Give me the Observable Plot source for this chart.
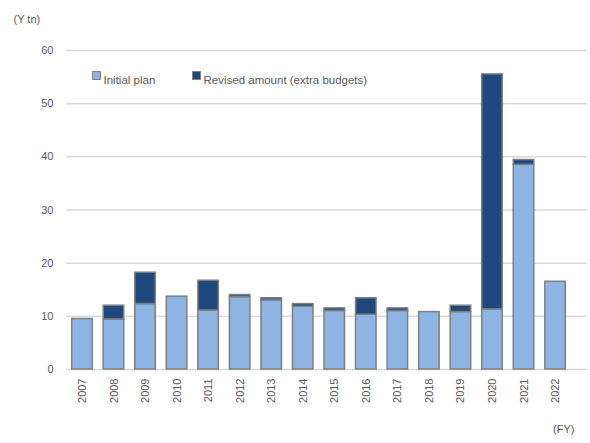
<!DOCTYPE html>
<html>
<head>
<meta charset="utf-8">
<script src="https://cdn.jsdelivr.net/npm/d3@7"></script>
<script src="https://cdn.jsdelivr.net/npm/@observablehq/plot@0.6"></script>
<style>
  html, body { margin: 0; padding: 0; background: #fff; }
  #chart { width: 590px; height: 443px; }
</style>
</head>
<body>
<div id="chart"></div>
<script>
const years = ["2007","2008","2009","2010","2011","2012","2013","2014","2015","2016","2017","2018","2019","2020","2021","2022"];
const initialPlan = [9.5, 9.4, 12.3, 13.7, 11.1, 13.6, 13.0, 11.8, 11.0, 10.3, 11.0, 10.8, 10.8, 11.3, 38.5, 16.5];
const revisedAmount = [0, 2.6, 5.9, 0, 5.6, 0.4, 0.4, 0.5, 0.5, 3.1, 0.5, 0, 1.2, 44.2, 0.9, 0];
const seriesNames = ["Initial plan", "Revised amount (extra budgets)"];
const seriesColors = ["#8db4e2", "#1f497d"];
const yTicks = [0, 10, 20, 30, 40, 50, 60];

const rows = [];
years.forEach((y, i) => rows.push({year: y, series: seriesNames[0], value: initialPlan[i]}));
years.forEach((y, i) => { if (revisedAmount[i] > 0) rows.push({year: y, series: seriesNames[1], value: revisedAmount[i]}); });

const font = "'Liberation Sans', Arial, sans-serif";
const textColor = "#595959";

const chart = Plot.plot({
  width: 590,
  height: 443,
  marginLeft: 66,
  marginRight: 19,
  marginTop: 50,
  marginBottom: 74,
  style: {fontFamily: font, fontSize: "11px", color: textColor, background: "#fff"},
  x: {domain: years, paddingInner: 0.35, paddingOuter: 0.18, round: false, label: null, tickSize: 0, tickPadding: 9, tickRotate: -90},
  y: {domain: [0, 60], ticks: yTicks, label: null, tickSize: 0, tickPadding: 13},
  color: {domain: seriesNames, range: seriesColors},
  marks: [
    Plot.ruleY(yTicks, {stroke: "#d9d9d9", strokeWidth: 1.5, insetRight: -16}),
    Plot.barY(rows, {x: "year", y: "value", fill: "series", stroke: "#7f7f7f", strokeWidth: 1.5}),
    Plot.text(["(Y tn)"], {frameAnchor: "top-left", dx: -53, dy: -35, textAnchor: "start", fill: textColor, fontSize: 11}),
    Plot.text(["(FY)"], {frameAnchor: "bottom-right", dx: 3, dy: 63, textAnchor: "end", fill: textColor, fontSize: 11}),
    Plot.dot([0], {frameAnchor: "top-left", dx: 30, dy: 25, symbol: "square", r: 4.5, fill: seriesColors[0], stroke: "#7f7f7f", strokeWidth: 1}),
    Plot.text([seriesNames[0]], {frameAnchor: "top-left", dx: 37, dy: 25, textAnchor: "start", fill: textColor, fontSize: 11.5}),
    Plot.dot([0], {frameAnchor: "top-left", dx: 130, dy: 25, symbol: "square", r: 4.5, fill: seriesColors[1], stroke: "#7f7f7f", strokeWidth: 1}),
    Plot.text([seriesNames[1]], {frameAnchor: "top-left", dx: 137, dy: 25, textAnchor: "start", fill: textColor, fontSize: 11.5})
  ]
});
document.getElementById("chart").appendChild(chart);
</script>
</body>
</html>
